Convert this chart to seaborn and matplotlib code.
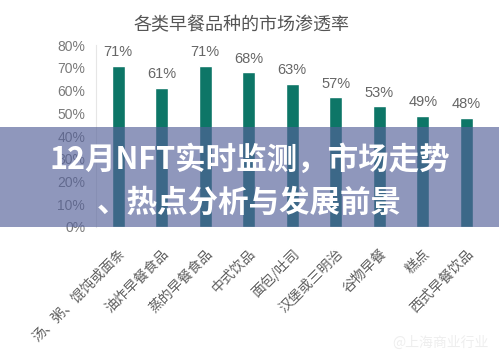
import matplotlib.pyplot as plt
import seaborn as sns
import pandas as pd
from matplotlib.patches import Rectangle

# 数据
categories = ['汤、粥、馄饨或面条', '油炸早餐食品', '蒸的早餐食品', '中式饮品', '面包/吐司',
              '汉堡或三明治', '谷物早餐', '糕点', '西式早餐饮品']
rates = [0.71, 0.61, 0.71, 0.68, 0.63, 0.57, 0.53, 0.49, 0.48]
yticks = [0, 0.1, 0.2, 0.3, 0.4, 0.5, 0.6, 0.7, 0.8]

df = pd.DataFrame({'品种': categories, '渗透率': rates})

sns.set_style("white")
plt.rcParams['font.family'] = ['Noto Sans CJK SC', 'DejaVu Sans']

fig = plt.figure(figsize=(4.99, 3.58), dpi=100)
ax = fig.add_axes([0.193, 0.366, 0.785, 0.508])

sns.barplot(data=df, x='品种', y='渗透率', color='#0d7667', width=0.3,
            saturation=1, ax=ax)

ax.set_ylim(0, 0.8)
ax.set_xlim(-0.5, 8.5)
ax.set_yticks(yticks)
ax.set_yticklabels([f'{int(round(v * 100))}%' for v in yticks],
                   color='#7a7a7a', fontsize=10, family=['Liberation Sans'])
ax.tick_params(axis='y', length=0, pad=8)
ax.tick_params(axis='x', length=0, pad=14)
ax.set_xticks(range(len(categories)))
ax.set_xticklabels(categories, rotation=45, ha='right', rotation_mode='anchor',
                   fontsize=10, color='#606060')
ax.set_xlabel('')
ax.set_ylabel('')

for s in ['top', 'right', 'bottom']:
    ax.spines[s].set_visible(False)
ax.spines['left'].set_color('#e6e6e6')
ax.spines['left'].set_linewidth(0.8)

for i, v in enumerate(rates):
    ax.text(i, v + 0.03, f'{int(round(v * 100))}%', ha='center', va='bottom',
            fontsize=10.5, color='#666666', family=['Liberation Sans'])

fig.text(0.483, 0.93, '各类早餐品种的市场渗透率', ha='center', va='center',
         fontsize=13, color='#555555')

# 横幅遮罩
fig.patches.append(Rectangle((0, 1 - 227 / 358), 1, 100 / 358,
                             transform=fig.transFigure, facecolor='#56629a',
                             alpha=0.66, edgecolor='none', zorder=5))
fig.text(0.5, 1 - 160 / 358, '12月NFT实时监测，市场走势', ha='center', va='center',
         fontsize=22, fontweight='bold', color='white', zorder=6)
fig.text(0.5, 1 - 203 / 358, '、热点分析与发展前景', ha='center', va='center',
         fontsize=22, fontweight='bold', color='white', zorder=6)

# 水印
fig.text(0.98, 1 - 343 / 358, '@上海商业行业', ha='right', va='center',
         fontsize=10, color='#eeeeee')

fig.savefig('out.png', dpi=100)
